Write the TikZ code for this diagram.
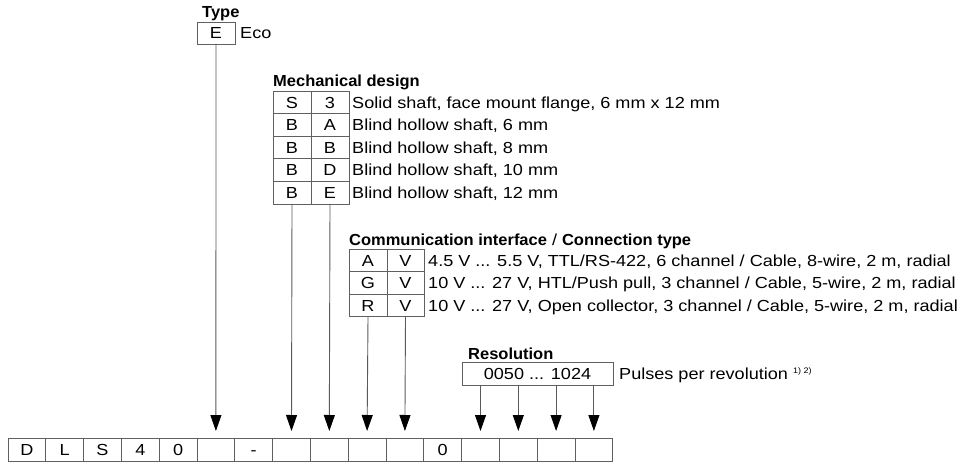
\documentclass[tikz,border=0pt]{standalone}
\usepackage{fontspec}
\setmainfont{Liberation Sans}[FakeStretch=1.13, BoldFeatures={FakeStretch=1.03}]
\usetikzlibrary{arrows.meta}
\definecolor{ln}{HTML}{5A5A5A}
\definecolor{bx}{HTML}{606060}
\begin{document}
\begin{tikzpicture}[x=1pt,y=-1pt,
  font=\fontsize{16}{18}\selectfont,
  cell/.style={draw=bx, line width=0.9pt, minimum width=37.8pt, minimum height=22.6pt,
    inner sep=0pt, outer sep=0pt, anchor=north west, text height=11.5pt, text depth=0pt},
  desc/.style={anchor=base west, inner sep=0pt},
  ttl/.style={anchor=base west, inner sep=0pt, font=\fontsize{16}{18}\selectfont\bfseries},
  arr/.style={draw=ln, line width=0.9pt, -{Triangle[width=11pt,length=16pt,color=black]}}]
\useasboundingbox (0,0) rectangle (960,462);

% bottom row
\foreach \i/\t in {1/D,2/L,3/S,4/4,5/0,6/{},7/-,8/{},9/{},10/{},11/{},12/0,13/{},14/{},15/{},16/{}}
  \node[cell, minimum height=23pt] (c\i) at ({8+(\i-1)*37.8},438) {\t};

% Type
\node[ttl] (ttype) at (202,18) {Type};
\node[cell, minimum width=38pt, minimum height=22pt] (E) at (197,22) {E};
\node[desc] (eco) at (240,38.5) {Eco};

% Mechanical design
\node[ttl] (tmech) at (273,87) {Mechanical design};
\foreach \r/\a/\b/\d in {1/S/3/{Solid shaft, face mount flange, 6 mm x 12 mm},
                        2/B/A/{Blind hollow shaft, 6 mm},
                        3/B/B/{Blind hollow shaft, 8 mm},
                        4/B/D/{Blind hollow shaft, 10 mm},
                        5/B/E/{Blind hollow shaft, 12 mm}}{
  \node[cell, minimum width=38pt] (m\r a) at (273,{91+(\r-1)*22.6}) {\a};
  \node[cell, minimum width=38pt] (m\r b) at (311,{91+(\r-1)*22.6}) {\b};
  \node[desc] (m\r d) at (352,{91+(\r-1)*22.6+17.1}) {\d};
}

% Communication interface
\node[anchor=base west, inner sep=0pt] (tcomm) at (349,246)
  {\textbf{Communication interface} / \textbf{Connection type}};
\foreach \r/\a/\b/\d in {1/A/V/{4.5 V ... 5.5 V, TTL/RS-422, 6 channel / Cable, 8-wire, 2 m, radial},
                        2/G/V/{10 V ... 27 V, HTL/Push pull, 3 channel / Cable, 5-wire, 2 m, radial},
                        3/R/V/{10 V ... 27 V, Open collector, 3 channel / Cable, 5-wire, 2 m, radial}}{
  \node[cell, minimum width=38pt] (k\r a) at (349,{249+(\r-1)*22.6}) {\a};
  \node[cell, minimum width=37pt] (k\r b) at (387,{249+(\r-1)*22.6}) {\b};
  \node[desc] (k\r d) at (428,{249+(\r-1)*22.6+17.1}) {\d};
}

% Resolution
\node[ttl] (tres) at (468,359) {Resolution};
\node[cell, minimum width=151pt, minimum height=23pt] (res) at (462,362) {0050 ... 1024};
\node[desc] (pulses) at (619,379.5) {Pulses per revolution \textsuperscript{\fontsize{8}{9}\selectfont 1) 2)}};

% arrows
\draw[arr] (E.south) -- ([yshift=7pt]c6.north);
\draw[arr] (m5a.south) -- ([yshift=7pt]c8.north);
\draw[arr] (m5b.south) -- ([yshift=7pt]c9.north);
\draw[arr] (k3a.south) -- ([yshift=7pt]c10.north);
\draw[arr] (k3b.south) -- ([yshift=7pt]c11.north);
\foreach \i in {13,14,15,16}
  \draw[arr] (res.south -| c\i.north) -- ([yshift=7pt]c\i.north);
\end{tikzpicture}
\end{document}
